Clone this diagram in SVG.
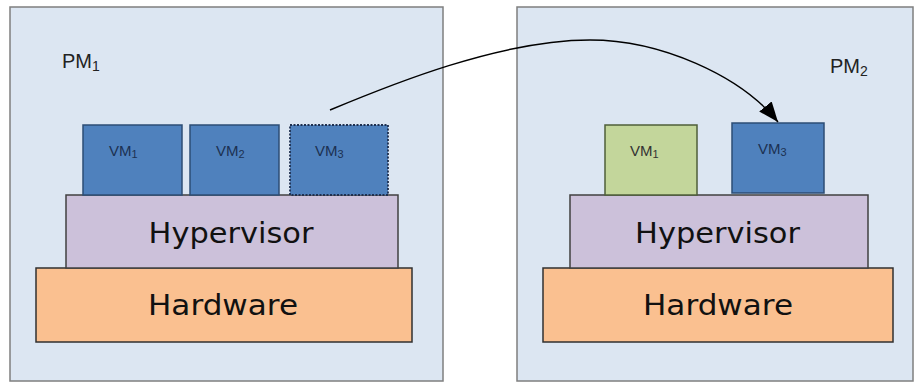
<svg xmlns="http://www.w3.org/2000/svg" width="915" height="383" viewBox="0 0 915 383">
<style>
.pm{fill:#dce6f2;stroke:#7f7f7f;stroke-width:1.5}
.vm{fill:#4f81bd;stroke:#2c4d75;stroke-width:1.5}
.vmg{fill:#c3d69b;stroke:#4f5f3a;stroke-width:1.5}
.dot{stroke:#1f3050;stroke-dasharray:2 1.5;stroke-width:1.8}
.hyp{fill:#ccc1da;stroke:#404040;stroke-width:1.5}
.hw{fill:#fac090;stroke:#303030;stroke-width:1.5}
.big{font-family:"DejaVu Sans",sans-serif;font-size:29px;fill:#111;text-anchor:middle}
.pml{font-family:"Liberation Sans",Arial,sans-serif;font-size:20px;fill:#222}
.pml .sub{font-size:14px}
.vml{font-family:"Liberation Sans",Arial,sans-serif;font-size:15px;fill:#1c3152}
.vml .sub{font-size:11px}
.vmg-t{fill:#333}
</style>
<defs>
<marker id="ah" markerUnits="userSpaceOnUse" markerWidth="24" markerHeight="18" refX="20" refY="8" orient="auto">
<path d="M0,0 L20,8 L0,16 Z" fill="#000"/>
</marker>
</defs>
<g id="pm1">
<rect class="pm" x="10" y="7" width="433" height="374"/>
<text class="pml" x="62" y="68">PM<tspan class="sub" dy="3">1</tspan></text>
</g>
<g id="pm2">
<rect class="pm" x="517" y="7" width="396" height="374"/>
<text class="pml" x="830" y="73">PM<tspan class="sub" dy="3">2</tspan></text>
</g>
<g id="pm1-hardware">
<rect class="hw" x="36" y="268" width="376" height="74"/>
<text class="big" x="223" y="315" textLength="150" lengthAdjust="spacingAndGlyphs">Hardware</text>
</g>
<g id="pm1-hypervisor">
<rect class="hyp" x="66" y="195" width="332" height="73"/>
<text class="big" x="231" y="243" textLength="165" lengthAdjust="spacingAndGlyphs">Hypervisor</text>
</g>
<g id="pm1-vm1">
<rect class="vm" x="83" y="125" width="99" height="70"/>
<text class="vml" x="109" y="156">VM<tspan class="sub" dy="2">1</tspan></text>
</g>
<g id="pm1-vm2">
<rect class="vm" x="190" y="125" width="89" height="70"/>
<text class="vml" x="216" y="156">VM<tspan class="sub" dy="2">2</tspan></text>
</g>
<g id="pm1-vm3">
<rect class="vm dot" x="290" y="125" width="98" height="70"/>
<text class="vml" x="315" y="156">VM<tspan class="sub" dy="2">3</tspan></text>
</g>
<g id="pm2-hardware">
<rect class="hw" x="543" y="268" width="350" height="74"/>
<text class="big" x="718" y="315" textLength="150" lengthAdjust="spacingAndGlyphs">Hardware</text>
</g>
<g id="pm2-hypervisor">
<rect class="hyp" x="570" y="195" width="298" height="73"/>
<text class="big" x="717.5" y="243" textLength="165" lengthAdjust="spacingAndGlyphs">Hypervisor</text>
</g>
<g id="pm2-vm1">
<rect class="vmg" x="605" y="125" width="92" height="70"/>
<text class="vml vmg-t" x="630" y="156">VM<tspan class="sub" dy="2">1</tspan></text>
</g>
<g id="pm2-vm3">
<rect class="vm" x="732" y="123" width="92" height="70"/>
<text class="vml" x="758" y="154">VM<tspan class="sub" dy="2">3</tspan></text>
</g>
<g id="connectors">
<path d="M330,110 C390,85 500,40 590,40 C660,40 740,75 778,122" fill="none" stroke="#000" stroke-width="1.5" marker-end="url(#ah)"/>
</g>
</svg>
